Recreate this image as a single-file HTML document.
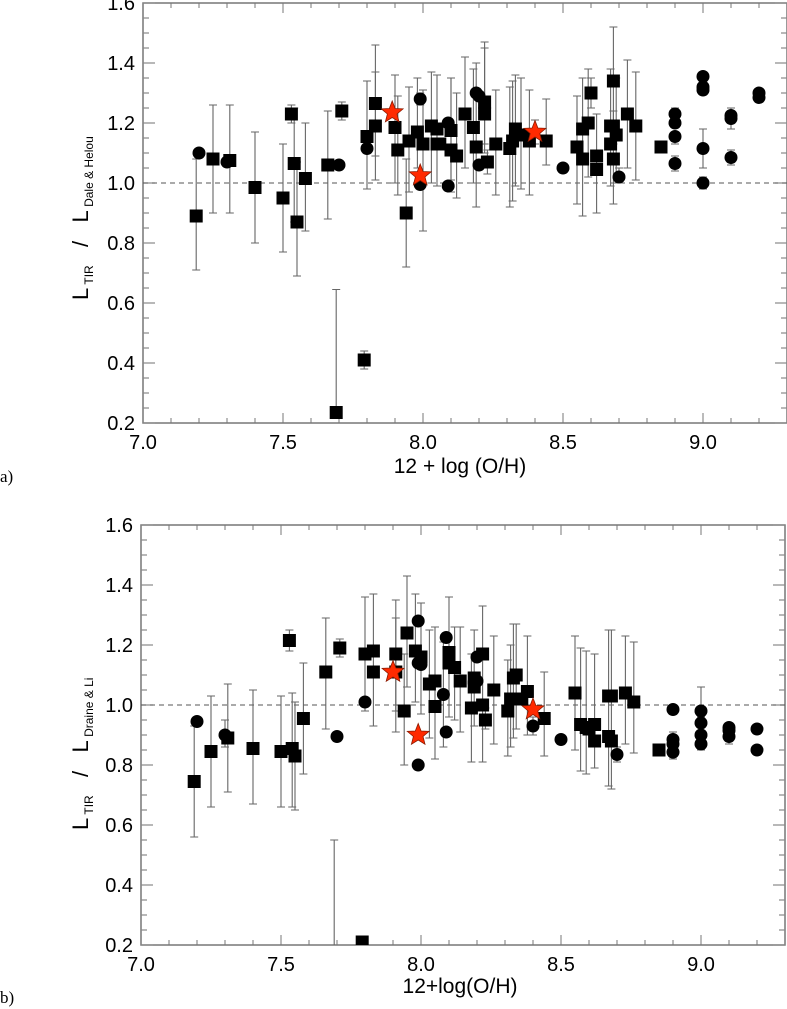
<!DOCTYPE html>
<html><head><meta charset="utf-8"><style>
html,body{margin:0;padding:0;background:#fff;}
svg{display:block;font-family:"Liberation Sans",sans-serif;}
</style></head><body>
<svg id="fig" width="787" height="1009" viewBox="0 0 787 1009" xmlns="http://www.w3.org/2000/svg">
<text x="0" y="482" font-family="Liberation Serif" font-size="17">a)</text>
<text x="0" y="1003" font-family="Liberation Serif" font-size="17">b)</text>
<text x="460" y="473" text-anchor="middle" font-size="21">12 + log (O/H)</text>
<text x="460" y="993" text-anchor="middle" font-size="21">12+log(O/H)</text>
<text transform="translate(88,300) rotate(-90)" font-size="22" xml:space="preserve">L<tspan font-size="12" dy="5"> TIR</tspan><tspan dy="-5">   /   L</tspan><tspan font-size="12" dy="5"> Dale &amp; Helou</tspan></text>
<text transform="translate(88,830) rotate(-90)" font-size="22" xml:space="preserve">L<tspan font-size="12" dy="5"> TIR</tspan><tspan dy="-5">   /   L</tspan><tspan font-size="12" dy="5"> Draine &amp; Li</tspan></text>
</svg>
<script>
const xTicks=["7.0","7.5","8.0","8.5","9.0"];
const yTicks=["0.2","0.4","0.6","0.8","1.0","1.2","1.4","1.6"];
// Panel a
const xA=[7.19,7.20,7.25,7.30,7.31,7.40,7.50,7.53,7.54,7.55,7.58,7.66,7.70,7.71,7.69,7.79,7.80,7.80,7.83,7.83,7.89,7.90,7.91,7.94,7.95,7.98,7.99,7.99,7.99,8.00,8.03,8.05,8.05,8.09,8.09,8.10,8.10,8.12,8.06,8.15,8.18,8.19,8.20,8.22,8.22,8.19,8.20,8.23,8.26,8.31,8.32,8.33,8.35,8.36,8.38,8.40,8.44,8.50,8.55,8.57,8.57,8.59,8.60,8.62,8.62,8.67,8.68,8.68,8.69,8.67,8.68,8.70,8.73,8.76,8.85,8.90,8.90,8.90,8.90,9.00,9.00,9.00,9.00,9.00,9.10,9.10,9.10,9.20,9.20];
const yA=[0.89,1.10,1.08,1.07,1.075,0.985,0.95,1.23,1.065,0.87,1.015,1.06,1.06,1.24,0.235,0.41,1.155,1.115,1.265,1.19,1.235,1.185,1.11,0.90,1.14,1.17,1.28,0.995,1.025,1.13,1.19,1.18,1.13,1.20,0.99,1.175,1.11,1.09,1.13,1.23,1.185,1.30,1.29,1.27,1.23,1.12,1.06,1.07,1.13,1.115,1.14,1.18,1.16,1.16,1.14,1.17,1.14,1.05,1.12,1.18,1.08,1.20,1.30,1.09,1.045,1.19,1.34,1.19,1.16,1.13,1.08,1.02,1.23,1.19,1.12,1.23,1.20,1.155,1.065,1.355,1.32,1.31,1.115,1.00,1.225,1.215,1.085,1.30,1.285];
const kA=("s c s c s s s s s s s s c s s s s c s s * s s s s s c c * s s s s c c s s s s s s c c s s s c s s s s s s s s * s c "+
 "s s s s s s s s s s s s s c s s s c c c c c c c c c c c c c c").split(" ");
const loA=[0.71,null,0.90,null,0.90,0.80,0.77,1.20,0.87,0.69,0.84,0.88,null,1.21,0.235,0.38,0.98,null,1.01,1.09,null,1.00,0.96,0.72,0.97,1.05,1.26,null,null,0.84,1.00,0.99,null,null,null,1.01,0.97,0.95,null,1.05,1.00,null,null,1.10,1.13,0.92,null,1.03,0.96,0.92,0.94,0.99,0.98,null,0.96,1.13,1.06,null,0.93,0.89,null,1.02,1.25,0.90,null,0.99,1.13,null,1.00,null,0.93,1.00,1.05,1.01,1.10,1.21,null,1.13,1.04,null,null,null,1.05,0.98,1.18,null,1.06,null,null];
const hiA=[1.08,null,1.26,null,1.26,1.17,1.13,1.26,1.25,1.07,1.20,1.24,null,1.27,0.645,0.44,1.34,null,1.46,1.37,null,1.36,1.29,1.08,1.32,1.35,1.30,null,null,1.31,1.37,1.36,null,null,null,1.35,1.35,1.30,null,1.42,1.38,null,null,1.45,1.47,1.40,null,1.11,1.31,1.32,1.34,1.36,1.35,null,1.31,1.21,1.28,null,1.29,1.35,null,1.38,1.35,1.23,null,1.38,1.52,null,1.35,null,1.24,1.05,1.41,1.37,1.14,1.25,null,1.17,1.09,null,null,null,1.18,1.02,1.25,null,1.11,null,null];
// Panel b
const xB=[7.19,7.20,7.25,7.30,7.31,7.40,7.50,7.53,7.54,7.55,7.58,7.66,7.70,7.71,7.69,7.79,7.80,7.80,7.83,7.83,7.91,7.90,7.91,7.94,7.95,7.98,7.99,7.99,7.99,7.99,8.00,8.00,8.03,8.05,8.05,8.08,8.09,8.09,8.10,8.10,8.12,8.14,8.18,8.19,8.20,8.22,8.20,8.19,8.22,8.23,8.26,8.31,8.32,8.33,8.34,8.36,8.38,8.40,8.40,8.44,8.50,8.55,8.57,8.59,8.60,8.62,8.62,8.67,8.68,8.67,8.68,8.70,8.73,8.76,8.85,8.90,8.90,8.90,8.90,9.00,9.00,9.00,9.00,9.10,9.10,9.10,9.20,9.20];
const yB=[0.745,0.945,0.845,0.90,0.89,0.855,0.845,1.215,0.855,0.83,0.955,1.11,0.895,1.19,0.10,0.21,1.17,1.01,1.18,1.11,1.17,1.11,1.11,0.98,1.24,1.18,1.28,1.14,0.90,0.80,1.16,1.135,1.07,1.08,0.995,1.035,1.225,0.91,1.175,1.14,1.125,1.08,0.99,1.09,1.16,1.17,1.08,1.06,1.00,0.95,1.05,0.98,1.02,1.09,1.10,1.02,1.045,0.985,0.93,0.955,0.885,1.04,0.935,0.925,0.92,0.935,0.88,1.03,1.03,0.895,0.88,0.835,1.04,1.01,0.85,0.985,0.885,0.87,0.843,0.98,0.94,0.90,0.87,0.925,0.915,0.895,0.92,0.85];
const kB=("s c s c s s s s s s s s c s n s s c s s s * s s s s c c * c s c s s s c c c s s s s s s c s c s s s s s s s s s s * c s c "+
 "s s s s s s s s s s c s s s c c c c c c c c c c c c c").split(" ");
const loB=[0.56,null,0.66,0.86,0.71,0.67,0.66,1.18,0.66,0.65,0.77,0.92,null,1.16,0.10,0.20,0.98,null,0.93,null,0.98,null,0.91,0.80,1.06,1.01,null,null,null,null,0.97,null,0.89,0.82,null,0.86,null,null,0.96,null,0.95,0.91,0.81,0.93,null,0.81,null,null,null,0.92,0.87,0.83,0.86,0.89,0.92,null,0.90,null,0.90,0.83,null,0.85,0.78,0.77,null,0.79,null,0.73,0.72,null,null,0.81,0.87,0.84,0.83,null,0.86,null,0.82,0.96,null,null,0.85,0.90,null,0.87,null,null];
const hiB=[0.93,null,1.03,0.95,1.07,1.05,1.03,1.25,1.04,1.01,1.14,1.29,null,1.22,0.55,0.23,1.36,null,1.37,null,1.35,null,1.29,1.17,1.43,1.37,null,null,null,null,1.34,null,1.25,1.26,null,1.21,null,null,1.36,null,1.26,1.26,1.17,1.25,null,1.33,null,null,null,0.99,1.23,1.15,1.20,1.27,1.27,null,1.23,null,0.96,1.11,null,1.23,1.19,1.18,null,1.17,null,1.25,1.25,null,null,0.86,1.23,1.21,0.87,null,0.91,null,0.86,1.06,null,null,0.89,0.94,null,0.91,null,null];

const NS="http://www.w3.org/2000/svg";
const svg=document.getElementById('fig');
function mk(tag,attrs,parent){const e=document.createElementNS(NS,tag);for(const k in attrs)e.setAttribute(k,attrs[k]);(parent||svg).appendChild(e);return e;}

function panel(id,L,R,T,B,xs,ys,ks,lo,hi){
  const sx=v=>L+(v-7.0)/(2.3)*(R-L);
  const sy=v=>B-(v-0.2)/(1.4)*(B-T);
  const g=mk('g',{});
  
  
  const clipId='clip'+id;
  const cp=mk('clipPath',{id:clipId},g);mk('rect',{x:L,y:T,width:R-L,height:B-T},cp);
  const frame=mk('rect',{x:L,y:T,width:R-L,height:B-T,fill:'none',stroke:'#777','stroke-width':1.5},g);
  
  
  for(let i=0;i<=23;i++){const v=7+i*0.1,x=sx(v),len=(i%5==0)?10:5;
    mk('line',{x1:x,y1:B,x2:x,y2:B-len,stroke:'#777','stroke-width':1},g);
    mk('line',{x1:x,y1:T,x2:x,y2:T+len,stroke:'#777','stroke-width':1},g);}
  for(let i=0;i<=28;i++){const v=0.2+i*0.05,y=sy(v),len=(i%4==0)?12:6;
    mk('line',{x1:L,y1:y,x2:L+len,y2:y,stroke:'#888','stroke-width':1.2},g);
    mk('line',{x1:R,y1:y,x2:R-len,y2:y,stroke:'#888','stroke-width':1.2},g);}
  xTicks.forEach(t=>{const tx=mk('text',{x:sx(+t),y:B+26,'text-anchor':'middle','font-size':20},g);tx.textContent=t;
    
    });
  yTicks.forEach(t=>{const tx=mk('text',{x:L-8,y:sy(+t)+7,'text-anchor':'end','font-size':20},g);tx.textContent=t;
    
    });
  const ref=mk('line',{x1:L,x2:R,y1:sy(1),y2:sy(1),stroke:'#555','stroke-dasharray':'5,4','stroke-width':1},g);
  
  
  const dg=mk('g',{'clip-path':'url(#'+clipId+')'},g);
  for(let i=0;i<xs.length;i++){ if(lo[i]==null)continue;
    const x=sx(xs[i]),y1=sy(lo[i]),y2=sy(hi[i]);
    const eb=mk('path',{d:`M${x},${y1}V${y2}M${x-4},${y1}H${x+4}M${x-4},${y2}H${x+4}`,stroke:'#666','stroke-width':1.1,fill:'none'},dg);
    
    }
  const order=[];for(let i=0;i<xs.length;i++)if(ks[i]!=='*')order.push(i);for(let i=0;i<xs.length;i++)if(ks[i]==='*')order.push(i);
  for(const i of order){const x=sx(xs[i]),y=sy(ys[i]),k=ks[i];let m;
    if(k==='s'){m=mk('rect',{x:x-6.5,y:y-6.5,width:13,height:13,fill:'#000'},dg);}
    else if(k==='c'){m=mk('circle',{cx:x,cy:y,r:6.5,fill:'#000'},dg);}
    else if(k==='*'){let p='';for(let j=0;j<10;j++){const r=j%2?5:11.5,a=-Math.PI/2+j*Math.PI/5;p+=(j?'L':'M')+(x+r*Math.cos(a)).toFixed(1)+','+(y+r*Math.sin(a)).toFixed(1);}
      m=mk('path',{d:p+'Z',fill:'#ff2a00',stroke:'#8a1a00','stroke-width':0.8},dg);}
    else continue;
    }
}
panel('a',143,787,3,423,xA,yA,kA,loA,hiA);
panel('b',141,785,525,945,xB,yB,kB,loB,hiB);
</script>
</body></html>
